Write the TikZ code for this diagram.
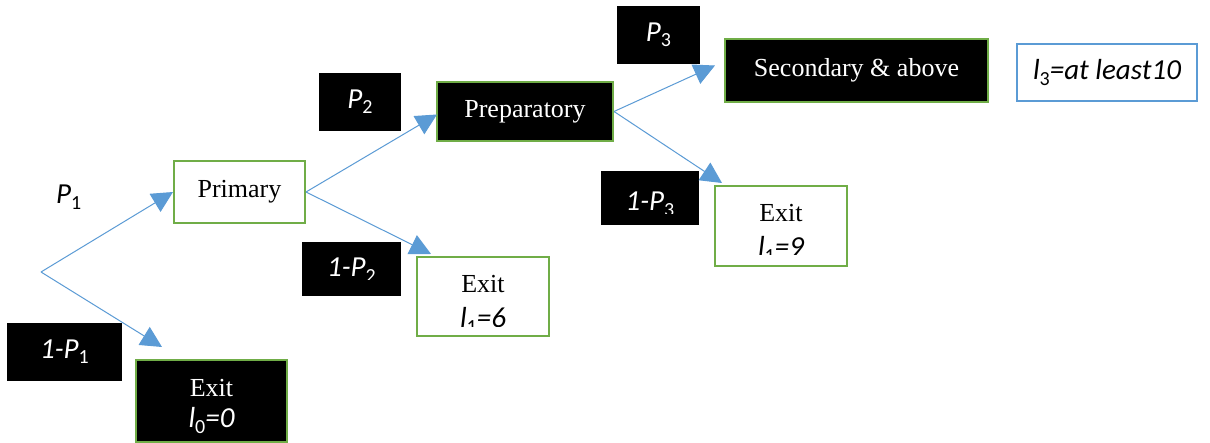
\documentclass[tikz,border=0pt]{standalone}
\usepackage{fontspec}
\setmainfont{Liberation Serif}
\newfontfamily\calibrifont{Carlito}
\usetikzlibrary{arrows.meta}
\definecolor{boxgreen}{HTML}{70AD47}
\definecolor{linkblue}{HTML}{5B9BD5}
\newcommand\stagesub[1]{\raisebox{-0.18em}{\fontsize{20}{20}\selectfont\upshape #1}}

\begin{document}
\begin{tikzpicture}[x=1pt,y=-1pt,
  stage/.style={draw=boxgreen, line width=2pt, inner sep=0pt, fill=white},
  darkstage/.style={stage, fill=black},
  dims/.style 2 args={minimum width=#1pt, minimum height=#2pt},
  tag/.style={fill=black, text=white, inner sep=0pt,
    font=\calibrifont\itshape\fontsize{29}{32}\selectfont},
  serif/.style={inner sep=0pt, font=\fontsize{26}{32}\selectfont},
  calib/.style={inner sep=0pt, font=\calibrifont\itshape\fontsize{29}{32}\selectfont},
  link/.style={draw=linkblue, line width=1pt, -{Triangle[length=21pt,width=21pt]}}]

\path[fill=white, use as bounding box] (0,0) rectangle (1210,443);

% root of the tree
\coordinate (origin) at (41,272);

% stage boxes
\node[stage, dims={131}{62}, serif] (primary) at (239.5,192) {Primary};
\node[darkstage, dims={176}{59}, serif, text=white] (prep) at (525,111.5) {Preparatory};
\node[darkstage, dims={263}{63}, serif, text=white] (second) at (856.5,70.5) {Secondary \& above};
\node[draw=linkblue, line width=2pt, fill=white, dims={180}{57}, calib] (lthree) at (1107,72.5) {l\stagesub{3}=at least10};

% exit boxes
\node[darkstage, dims={151}{82}] (exit0) at (211.5,401) {};
\node[serif, text=white, anchor=base] (exit0a) at (211.5,396) {Exit};
\node[calib, text=white, anchor=base] (exit0b) at (211.5,428) {l\stagesub{0}=0};

\node[stage, dims={132}{79}] (exit6) at (483,296.5) {};
\begin{scope}
  \clip (exit6.north west) rectangle ([shift={(0,-10)}]exit6.south east);
  \node[serif, anchor=base] (exit6a) at (483,293) {Exit};
  \node[calib, anchor=base] (exit6b) at (483,328) {l\stagesub{1}=6};
\end{scope}

\node[stage, dims={132}{80}] (exit9) at (781,226) {};
\begin{scope}
  \clip (exit9.north west) rectangle ([shift={(0,-12)}]exit9.south east);
  \node[serif, anchor=base] (exit9a) at (781,222) {Exit};
  \node[calib, anchor=base] (exit9b) at (781,257) {l\stagesub{1}=9};
\end{scope}

% probability tags
\node[calib, anchor=base west] (pone) at (56,204) {P\stagesub{1}};
\node[tag, dims={82}{58}] (ptwo) at (360,102) {P\stagesub{2}};
\node[tag, dims={83}{58}] (pthree) at (658.5,35) {P\stagesub{3}};
\node[tag, dims={115}{58}] (qone) at (64.5,352) {1-P\stagesub{1}};

\node[tag, dims={99}{54}] (qtwo) at (351.5,269) {};
\begin{scope}
  \clip (qtwo.north west) rectangle ([shift={(0,-17)}]qtwo.south east);
  \node[calib, text=white, anchor=base] (qtwot) at (351.5,277) {1-P\stagesub{2}};
\end{scope}

\node[tag, dims={98}{54}] (qthree) at (650,198) {};
\begin{scope}
  \clip (qthree.north west) rectangle ([shift={(0,-12)}]qthree.south east);
  \node[calib, text=white, anchor=base] (qthreet) at (650,211) {1-P\stagesub{3}};
\end{scope}

% branches
\draw[link] (origin) -- (primary.west);
\draw[link] (origin) -- ([shift={(27,-12)}]exit0.north west);
\draw[link] (primary.east) -- ([shift={(1,3)}]prep.west);
\draw[link] (primary.east) -- ([shift={(15,-2)}]exit6.north west);
\draw[link] (prep.east) -- ([shift={(-9,-5)}]second.west);
\draw[link] (prep.east) -- ([shift={(8,-2)}]exit9.north west);
\end{tikzpicture}
\end{document}
